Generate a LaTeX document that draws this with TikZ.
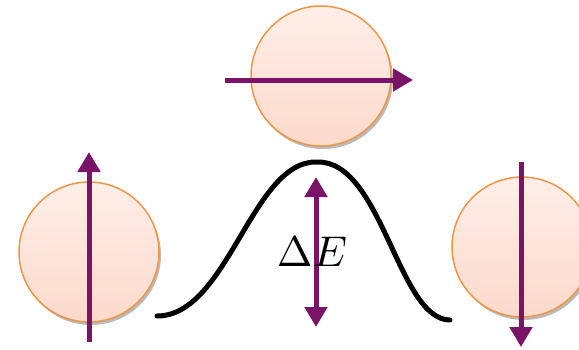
\documentclass[tikz,border=0pt]{standalone}
\usepackage{amsmath,amssymb}
\usepackage{tikz}
\usetikzlibrary{positioning,arrows.meta,shadows}

\definecolor{spinpurple}{RGB}{122,20,104}
\definecolor{ballrim}{RGB}{238,150,70}
\definecolor{balltop}{RGB}{255,238,232}
\definecolor{ballbot}{RGB}{252,218,204}

\begin{document}
\begin{tikzpicture}[
  x=1pt,y=-1pt,
  ball/.style={circle,draw=ballrim,line width=1.5pt,minimum size=140pt,inner sep=0pt,
    top color=balltop,bottom color=ballbot,
    drop shadow={shadow xshift=2pt,shadow yshift=-3pt,fill=black!45,opacity=0.6}},
  spin/.style={draw=spinpurple,line width=5pt,-{Triangle[length=20pt,width=22pt]}},
  barrier/.style={draw=black,line width=5pt,line cap=round}
]
\useasboundingbox (0,0) rectangle (579,349);
\node[ball] (up) at (89,252) {};
\node[ball] (mid) at (321,76) {};
\node[ball] (down) at (522,247) {};
% spin arrows
\coordinate (upS) at (89,342);
\coordinate (upT) at (89,152);
\coordinate (midS) at (225,80);
\coordinate (midT) at (413,80);
\coordinate (downS) at (521,162);
\coordinate (downT) at (521,347);
\draw[spin] (upS) -- (upT);
\draw[spin] (midS) -- (midT);
\draw[spin] (downS) -- (downT);
% energy barrier
\coordinate (bl) at (157,316);
\coordinate (peak) at (317,162);
\coordinate (br) at (450,320);
\draw[barrier] (bl) .. controls (228,316) and (252,160) .. (peak)
  .. controls (382,160) and (398,320) .. (br);
\coordinate (eT) at (316,177);
\coordinate (eB) at (316,327);
\draw[spin,{Triangle[length=20pt,width=22pt]}-{Triangle[length=20pt,width=22pt]}] (eT) -- (eB);
\node[scale=4.3] (dE) at (312,252) {$\Delta E$};
\end{tikzpicture}
\end{document}
